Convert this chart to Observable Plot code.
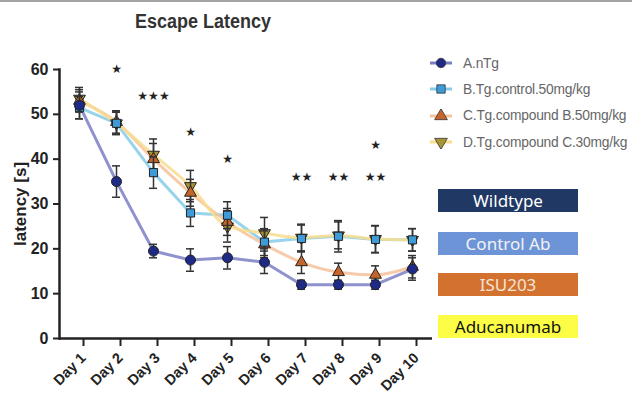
<!DOCTYPE html>
<html>
<head>
<meta charset="utf-8">
<script src="https://cdn.jsdelivr.net/npm/d3@7"></script>
<script src="https://cdn.jsdelivr.net/npm/@observablehq/plot@0.6"></script>
<style>
  html, body { margin: 0; padding: 0; background: #fff; }
  #wrap { position: relative; width: 632px; height: 411px; overflow: hidden; border-top: 2px solid #a3a3a3; box-sizing: border-box; }
  #chart { position: absolute; left: 0; top: -2px; }
  #title { position: absolute; left: 0; width: 406px; top: 10px; text-align: center; font: bold 18px "Liberation Sans", Arial, sans-serif; color: #333; transform: scaleY(1.08); }
  #legend { position: absolute; left: 428px; top: 48px; font: 13.8px "Liberation Sans", Arial, sans-serif; color: #666; letter-spacing: -0.2px; }
  .lrow { display: flex; align-items: center; height: 26.3px; white-space: nowrap; }
  .lrow svg { margin-right: 9px; }
  .box { position: absolute; left: 438px; width: 140px; height: 23px; line-height: 23px; text-align: center; font: 17px "Noto Sans", sans-serif; }
</style>
</head>
<body>
<div id="wrap">
  <div id="chart"></div>
  <div id="title">Escape Latency</div>
  <div id="legend"></div>
  <div id="boxes"></div>
</div>
<script>
const days = ["Day 1","Day 2","Day 3","Day 4","Day 5","Day 6","Day 7","Day 8","Day 9","Day 10"];
const groups = ["A.nTg","B.Tg.control.50mg/kg","C.Tg.compound B.50mg/kg","D.Tg.compound C.30mg/kg"];
const aMean = [52, 35, 19.5, 17.5, 18, 17, 12, 12, 12, 15.5];
const aErr  = [3, 3.5, 1.5, 2.5, 2.5, 2.5, 1, 1, 1, 2.5];
const bMean = [51.5, 48, 37, 28, 27.5, 21.5, 22.3, 22.8, 22.1, 22];
const bErr  = [2.5, 2.5, 3.5, 3, 3, 3, 3, 3.5, 3, 2.5];
const cMean = [53, 48.3, 40, 32.5, 26, 21, 17, 14.8, 14.2, 16];
const cErr  = [2.5, 2.5, 3.5, 3, 3, 3, 2.5, 2, 2, 2.5];
const dMean = [53.5, 48, 41, 34, 25, 23.5, 22.5, 23, 22.2, 22];
const dErr  = [2.5, 2.5, 3.5, 3.5, 3.5, 3.5, 3, 3, 3, 2.5];
const sigDay = ["Day 2","Day 3","Day 4","Day 5","Day 7","Day 8","Day 9","Day 9"];
const sigY = [60.3, 54.2, 46.2, 40.2, 36.2, 36.2, 36.2, 43.3];
const sigLabel = ["★","★★★","★","★","★★","★★","★★","★"];
const yTicks = [0, 10, 20, 30, 40, 50, 60];
const boxLabels = ["Wildtype","Control Ab","ISU203","Aducanumab"];

const lineColors = ["#7a7fc4", "#86cbe9", "#f6c29b", "#f8dd8e"];
const fillColors = ["#1e2a86", "#3e9bd8", "#c5652c", "#a89533"];
const symbols = ["circle", "square", "triangle", "triangle"];
const rotates = [0, 0, 0, 180];
const sizes = [5, 4.6, 4.4, 4.4];
const curves = ["linear", "linear", "monotone-x", "monotone-x"];
const boxFill = ["#1f3864", "#6e94d8", "#d3722f", "#fdfd45"];
const boxText = ["#ffffff", "#f2f2f2", "#f4e4d8", "#111111"];
const boxTop = [187, 230, 271, 313];

const means = [aMean, bMean, cMean, dMean];
const errs = [aErr, bErr, cErr, dErr];
const table = [];
groups.forEach((g, gi) => days.forEach((d, di) => table.push({g, gi, day: d, v: means[gi][di], e: errs[gi][di]})));
const sig = sigDay.map((d, i) => ({day: d, y: sigY[i], s: sigLabel[i]}));

const marks = [];
// lines
for (let gi = 0; gi < 4; gi++) {
  marks.push(Plot.line(table.filter(r => r.gi === gi), {x: "day", y: "v", stroke: lineColors[gi], strokeWidth: 3, strokeOpacity: 0.85, curve: curves[gi]}));
}
// error bars and markers, drawn D -> A so A ends on top
for (let gi = 3; gi >= 0; gi--) {
  const rows = table.filter(r => r.gi === gi);
  marks.push(Plot.ruleX(rows, {x: "day", y1: r => r.v - r.e, y2: r => r.v + r.e, stroke: "#333", strokeWidth: 1.5}));
  marks.push(Plot.ruleY(rows, {x1: "day", x2: "day", y: r => r.v - r.e, stroke: "#333", strokeWidth: 1.5, insetLeft: -4, insetRight: -4}));
  marks.push(Plot.ruleY(rows, {x1: "day", x2: "day", y: r => r.v + r.e, stroke: "#333", strokeWidth: 1.5, insetLeft: -4, insetRight: -4}));
  marks.push(Plot.dot(rows, {x: "day", y: "v", symbol: () => symbols[gi], rotate: rotates[gi], r: sizes[gi], fill: fillColors[gi], stroke: "#222", strokeWidth: 1}));
}
marks.push(Plot.text(sig, {x: "day", y: "y", text: "s", fontSize: 12, fill: "#222", fontFamily: "DejaVu Sans", dy: 1}));
marks.push(Plot.ruleY([0], {stroke: "#222", strokeWidth: 2.5}));
marks.push(Plot.frame({anchor: "left", stroke: "#222", strokeWidth: 2.5}));
marks.push(Plot.axisY({ticks: yTicks, tickSize: 6, tickPadding: 5, fontSize: 16, fontWeight: "bold", stroke: "#222", strokeWidth: 2, label: "latency [s]", labelAnchor: "center", labelArrow: "none", labelOffset: 46}));
marks.push(Plot.axisX({tickSize: 8, tickPadding: 9, tickRotate: -45, fontSize: 14.5, fontWeight: "bold", stroke: "#222", strokeWidth: 2, label: null, dx: 4}));

const plot = Plot.plot({
  width: 632,
  height: 413,
  marginTop: 69,
  marginBottom: 75,
  marginLeft: 59,
  marginRight: 200,
  style: {fontFamily: "'Liberation Sans', Arial, sans-serif", color: "#222", background: "transparent"},
  x: {type: "point", domain: days, padding: 0.54},
  y: {domain: [0, 60]},
  marks
});
document.getElementById("chart").appendChild(plot);

// y axis label styling
const lab = [...plot.querySelectorAll("g[aria-label='y-axis label'] text")];
lab.forEach(t => { t.setAttribute("font-size", "17"); t.setAttribute("font-weight", "bold"); });

// legend
const leg = document.getElementById("legend");
groups.forEach((g, gi) => {
  const row = document.createElement("div");
  row.className = "lrow";
  const sym = d3.create("svg").attr("width", 26).attr("height", 14);
  sym.append("line").attr("x1", 2).attr("x2", 24).attr("y1", 7).attr("y2", 7).attr("stroke", lineColors[gi]).attr("stroke-width", 3);
  sym.append("path").attr("d", d3.symbol(gi === 0 ? d3.symbolCircle : gi === 1 ? d3.symbolSquare : d3.symbolTriangle, 70)())
    .attr("transform", `translate(13,7) rotate(${rotates[gi]})`).attr("fill", fillColors[gi]).attr("stroke", "#333").attr("stroke-width", 0.8);
  row.appendChild(sym.node());
  const span = document.createElement("span");
  span.textContent = g;
  row.appendChild(span);
  leg.appendChild(row);
});

// label boxes
const boxes = document.getElementById("boxes");
boxLabels.forEach((b, i) => {
  const d = document.createElement("div");
  d.className = "box";
  d.style.top = boxTop[i] + "px";
  d.style.background = boxFill[i];
  d.style.color = boxText[i];
  d.textContent = b;
  boxes.appendChild(d);
});
</script>
</body>
</html>
